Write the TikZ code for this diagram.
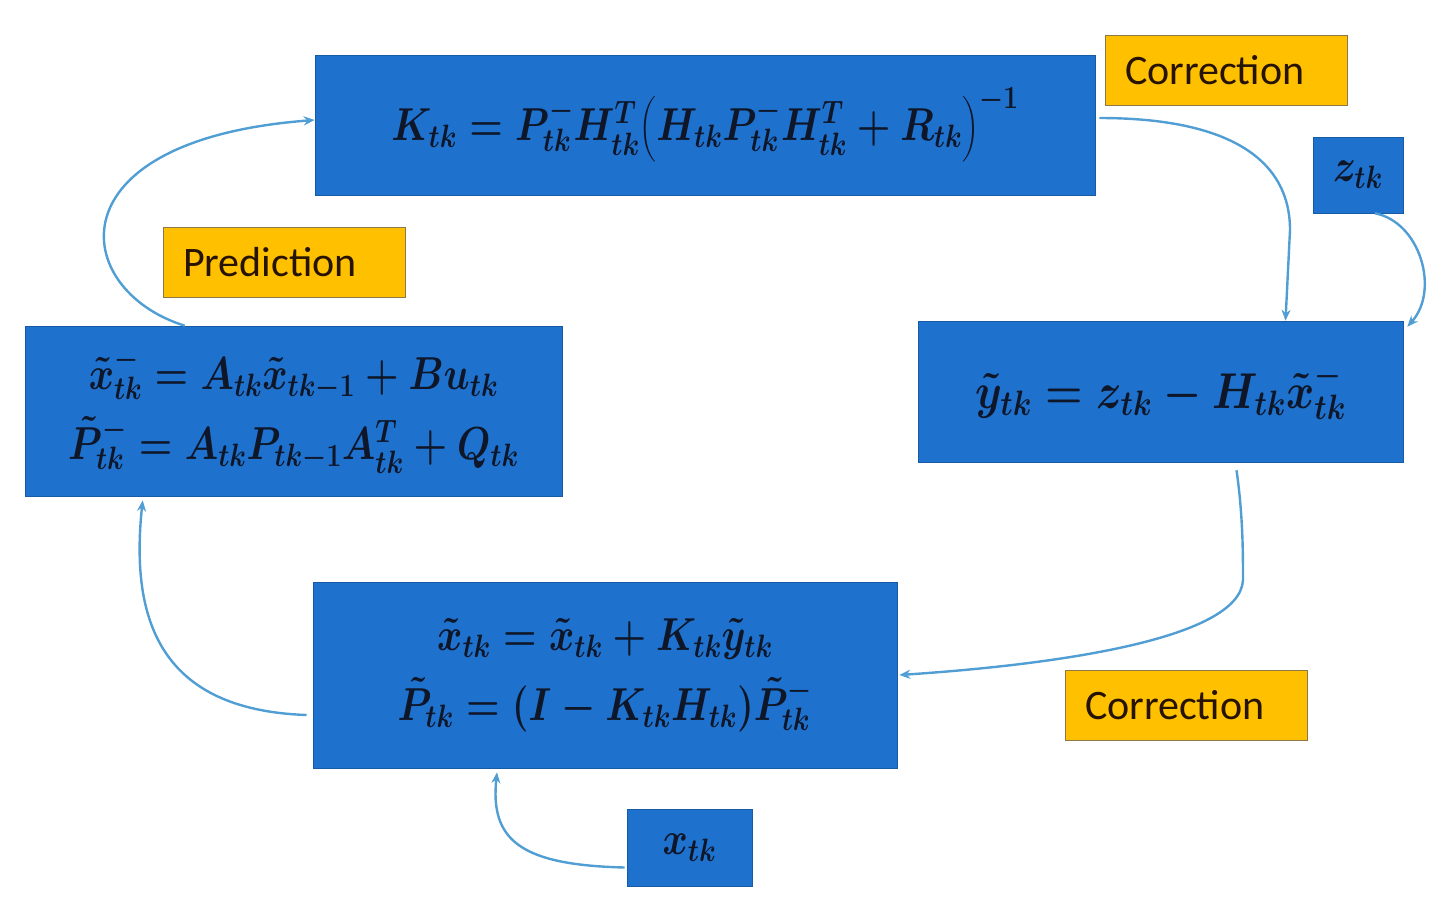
\RequirePackage{fix-cm}
\documentclass[tikz,border=0pt]{standalone}
\usepackage{graphicx}
\usepackage{amsmath}
\usepackage{fontspec}
\setmainfont{Carlito}
\usetikzlibrary{arrows.meta,calc}
\definecolor{boxblue}{RGB}{30,114,206}
\definecolor{labelorange}{RGB}{255,192,0}
\definecolor{labelborder}{RGB}{140,120,70}
\definecolor{arrowblue}{RGB}{80,158,212}
\definecolor{mathink}{RGB}{14,22,40}
\newcommand{\eqn}[1]{\scalebox{0.915}[1.1]{$#1$}}
\newcommand{\eqnbig}[1]{\scalebox{1.02}[1.2]{$#1$}}
\tikzset{
  bluebox/.style={fill=boxblue, draw=boxblue!80!black, line width=0.6pt, inner sep=0pt, text=mathink, align=center, font=\fontsize{42}{70}\selectfont\boldmath},
  tag/.style={fill=labelorange, draw=labelborder, line width=1pt, inner xsep=20pt, inner ysep=0pt, text width=202pt, align=left, minimum height=70pt, text=black!85!orange, font=\fontsize{42}{50}\selectfont},
  flow/.style={draw=arrowblue, line width=2.4pt, -{Stealth[length=11pt,width=9pt]}}
}
\begin{document}
\begin{tikzpicture}[x=1pt,y=1pt]
\useasboundingbox (0,0) rectangle (1454,-922);
% boxes
\node[bluebox, minimum width=780pt, minimum height=140pt] (K) at (705,-125)
  {\eqn{K_{tk}=P^{-}_{tk}H^{T}_{tk}\bigl(H_{tk}P^{-}_{tk}H^{T}_{tk}+R_{tk}\bigr)^{-1}}};
\node[bluebox, minimum width=90pt, minimum height=76pt] (z) at (1358,-175) {\eqn{z_{tk}}};
\node[bluebox, minimum width=485pt, minimum height=141pt] (y) at (1160.5,-391.5)
  {\eqnbig{\tilde{y}_{tk}=z_{tk}-H_{tk}\tilde{x}^{-}_{tk}}};
\node[bluebox, minimum width=537pt, minimum height=170pt] (pred) at (293.5,-411)
  {\eqn{\tilde{x}^{-}_{tk}=A_{tk}\tilde{x}_{tk-1}+Bu_{tk}}\\
   \eqn{\tilde{P}^{-}_{tk}=A_{tk}P_{tk-1}A^{T}_{tk}+Q_{tk}}};
\node[bluebox, minimum width=584pt, minimum height=186pt] (upd) at (605,-675)
  {\eqn{\tilde{x}_{tk}=\tilde{x}_{tk}+K_{tk}\tilde{y}_{tk}}\\
   \eqn{\tilde{P}_{tk}=(I-K_{tk}H_{tk})\tilde{P}^{-}_{tk}}};
\node[bluebox, minimum width=125pt, minimum height=77pt] (x) at (689.5,-847.5) {\eqn{x_{tk}}};
% labels
\node[tag] (ctop) at (1226,-70) {Correction};
\node[tag] (plab) at (284,-262) {Prediction};
\node[tag] (cbot) at (1186,-705.5) {Correction};
% connectors
\coordinate (k1) at ([xshift=160pt]pred.north west);
\draw[flow] (k1) .. controls (70,-290) and (50,-140) .. ([yshift=5pt]K.west);
\coordinate (k2) at ([xshift=4pt,yshift=7pt]K.east);
\coordinate (k3) at (1290,-230);
\draw[flow] (k2) .. controls (1230,-118) and (1290,-160) .. (k3) -- ([xshift=125pt]y.north);
\coordinate (z1) at ([xshift=17pt]z.south);
\draw[flow] (z1) .. controls (1420,-222) and (1440,-290) .. ([xshift=4pt,yshift=-6pt]y.north east);
\coordinate (y1) at ([xshift=76pt,yshift=-8pt]y.south);
\coordinate (y2) at (1243,-580);
\draw[flow] (y1) .. controls (1243,-515) and (1243,-555) .. (y2) .. controls (1240,-640) and (1050,-665) .. ([xshift=2pt]upd.east);
\coordinate (u1) at ([xshift=-6pt,yshift=-40pt]upd.west);
\draw[flow] (u1) .. controls (160,-710) and (130,-620) .. ([xshift=118pt,yshift=-4pt]pred.south west);
\coordinate (x1) at ([xshift=-2pt,yshift=-20pt]x.west);
\draw[flow] (x1) .. controls (520,-865) and (490,-840) .. ([xshift=-108pt,yshift=-4pt]upd.south);
\end{tikzpicture}
\end{document}
